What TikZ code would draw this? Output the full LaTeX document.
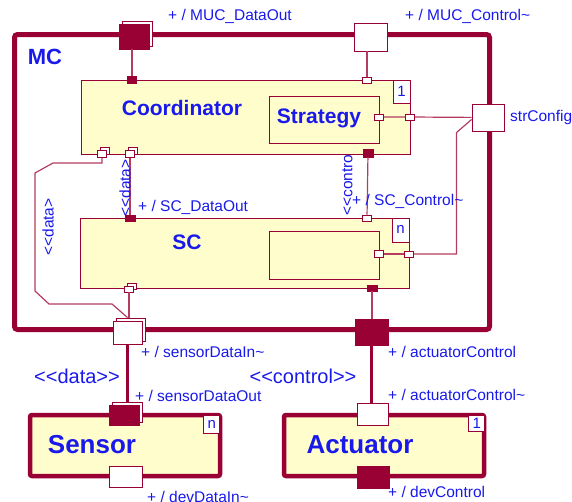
\documentclass[tikz,border=0pt]{standalone}
\usepackage{fontspec}
\setmainfont{Liberation Sans}
\usetikzlibrary{shadows}

\definecolor{crimson}{RGB}{153,0,51}
\definecolor{wirecol}{RGB}{180,60,95}
\definecolor{partfill}{RGB}{255,253,204}
\definecolor{umlblue}{RGB}{25,25,235}

\newcommand\lguil{<\kern0pt<}
\newcommand\rguil{>\kern0pt>}

\tikzset{
frame/.style={draw=crimson,line width=5pt,rounded corners=3pt,inner sep=0pt},
part/.style={draw=crimson,fill=partfill,line width=0.9pt,inner sep=0pt},
device/.style={draw=crimson,fill=partfill,line width=4.5pt,rounded corners=2pt,inner sep=0pt},
mult/.style={draw=crimson,fill=white,line width=0.8pt,inner sep=0pt,
  text=umlblue,font=\fontsize{15}{15}\selectfont},
portw/.style={draw=crimson,fill=white,line width=0.9pt,inner sep=0pt},
portf/.style={draw=crimson,fill=crimson,line width=0.9pt,inner sep=0pt},
sport/.style={minimum width=9pt,minimum height=6pt},
stacked/.style={general shadow={draw=crimson,fill=white,line width=0.9pt,
  shadow xshift=3pt,shadow yshift=3pt}},
wire/.style={draw=wirecol,line width=1.2pt},
link/.style={draw=crimson,line width=3pt},
lbl/.style={text=umlblue,font=\fontsize{15.5}{18}\selectfont,inner sep=0pt},
stereo/.style={text=umlblue,font=\fontsize{20}{22}\selectfont,inner sep=0pt},
title/.style={text=umlblue,font=\bfseries\fontsize{21}{22}\selectfont,inner sep=0pt},
devtitle/.style={text=umlblue,font=\bfseries\fontsize{26}{28}\selectfont,inner sep=0pt}
}

\begin{document}
\begin{tikzpicture}[x=1pt,y=-1pt]
\useasboundingbox (0,0) rectangle (572,501);

% MC
\node[frame,minimum width=475pt,minimum height=295pt] (MC) at (252,182) {};
\node[title,font=\bfseries\fontsize{22}{22}\selectfont] (MCname) at (45,57) {MC};

% Coordinator
\node[part,minimum width=329pt,minimum height=74pt] (coord) at (245.5,117) {};
\node[title] (coordname) at (182,108) {Coordinator};
\node[mult,anchor=north east,minimum width=17pt,minimum height=23pt]
(coordmult) at (coord.north east) {1};
\node[part,minimum width=110pt,minimum height=47pt] (strat) at (324,119.5) {};
\node[title] (stratname) at (319,118) {Strategy};

% SC
\node[part,minimum width=329pt,minimum height=70pt] (SC) at (244.5,253) {};
\node[title] (SCname) at (187,242) {SC};
\node[mult,anchor=north east,minimum width=17pt,minimum height=24pt]
(SCmult) at (SC.north east) {n};
\node[part,minimum width=110pt,minimum height=48pt] (SCin) at (324,255) {};

% Ports of the parts
\node[portf,sport,minimum height=7pt] (cTopData) at (132,80) {};
\node[portw,sport] (cTopCtrl) at (367,80) {};
\node[portw,sport,minimum height=7pt,stacked] (cBotLeft) at (102,154) {};
\node[portw,sport,minimum height=7pt,stacked] (cBotData) at (130,154) {};
\node[portf,sport,minimum width=10pt,minimum height=8pt] (cBotCtrl) at (368,153) {};
\node[portw,sport] (stratPort) at (379,117) {};
\node[portw,sport] (cRight) at (410,117) {};
\node[portf,sport,minimum width=10pt] (scTopData) at (130,218) {};
\node[portw,sport] (scTopCtrl) at (367,218) {};
\node[portw,sport,stacked] (scBotData) at (129,289) {};
\node[portf,sport,minimum width=10pt] (scBotCtrl) at (372,288) {};
\node[portw,sport,minimum height=7pt] (scInPort) at (379,254) {};
\node[portw,sport] (scRight) at (409,254) {};

% Ports of MC
\node[portf,stacked,minimum width=30pt,minimum height=25pt] (mucData) at (134,36.5) {};
\node[portw,minimum width=33pt,minimum height=28pt] (mucCtrl) at (370.5,37) {};
\node[portw,minimum width=32pt,minimum height=27pt] (strCfg) at (488,117.5) {};
\node[portw,stacked,minimum width=29pt,minimum height=23pt] (sensIn) at (127.5,332.5) {};
\node[portf,minimum width=33pt,minimum height=26pt] (actCtrl) at (371.5,332) {};

% Sensor
\node[device,minimum width=190pt,minimum height=61pt] (sensor) at (125,445.5) {};
\node[devtitle] (sensname) at (92,445) {Sensor};
\node[mult,anchor=north east,minimum width=16pt,minimum height=18pt]
(sensmult) at ([shift={(-2,2)}]sensor.north east) {n};
\node[portf,stacked,minimum width=30pt,minimum height=20pt] (sensOut) at (124,415) {};
\node[portw,minimum width=33pt,minimum height=21pt] (devIn) at (125.5,476.5) {};

% Actuator
\node[device,minimum width=200pt,minimum height=61pt] (actuator) at (384,445.5) {};
\node[devtitle] (actname) at (360,445) {Actuator};
\node[mult,anchor=north east,minimum width=16pt,minimum height=16pt]
(actmult) at ([shift={(-1,2)}]actuator.north east) {1};
\node[portw,minimum width=31pt,minimum height=22pt] (actIn) at (372.5,414) {};
\node[portf,minimum width=32pt,minimum height=22pt] (devCtrl) at (373,477) {};

% Connectors
\draw[wire] (cTopData) -- (cTopData |- mucData.south);
\draw[wire] (cTopCtrl) -- (cTopCtrl |- mucCtrl.south);
\draw[wire] (stratPort) -- (cRight) -- (strCfg);
\draw[wire] (strCfg.west) ++(0,2) -- ++(-15,13) |- (scRight);
\draw[wire] (scInPort) -- (scRight);
\draw[wire] (cBotData) -- (scTopData);
\draw[wire] (cBotCtrl) -- (scTopCtrl);
\draw[wire] (scBotCtrl) -- (scBotCtrl |- actCtrl.north);
\draw[wire] (scBotData) -- ([yshift=3pt]scBotData |- sensIn.north);
\draw[wire] (cBotLeft) |- (53,163) -- (35,173) -- (35,291) -- (49,304)
  -- (112,304) -- ([yshift=3pt]sensIn.north);
\draw[link] (sensIn) -- ([yshift=3pt]sensIn.south |- sensOut.north);
\draw[link] (actCtrl) -- (actCtrl.south |- actIn.north);

% Labels
\node[lbl,anchor=west] (lMucData) at (168,16) {+ / MUC\_DataOut};
\node[lbl,anchor=west] (lMucCtrl) at (405,16) {+ / MUC\_Control\textasciitilde};
\node[lbl,anchor=west] (lStrCfg) at (510,117) {strConfig};
\node[lbl,anchor=west] (lScData) at (138,207) {+ / SC\_DataOut};
\node[lbl,anchor=west] (lScCtrl) at (352,201) {+ / SC\_Control\textasciitilde};
\node[lbl,anchor=west] (lSensIn) at (141,352) {+ / sensorDataIn\textasciitilde};
\node[lbl,anchor=west] (lSensOut) at (135,396) {+ / sensorDataOut};
\node[lbl,anchor=west] (lDevIn) at (147,497) {+ / devDataIn\textasciitilde};
\node[lbl,anchor=west] (lActCtrl) at (388,352) {+ / actuatorControl};
\node[lbl,anchor=west] (lActIn) at (388,395) {+ / actuatorControl\textasciitilde};
\node[lbl,anchor=west] (lDevCtrl) at (388,492) {+ / devControl};
\node[lbl,rotate=90] (lDataLeft) at (48,227) {\lguil data>};
\node[lbl,rotate=90] (lDataMid) at (125,188) {\lguil data>};
\node[lbl,rotate=90] (lCtrlMid) at (347.5,185) {\lguil contro};
\node[stereo] (sData) at (77,376) {\lguil data\rguil};
\node[stereo] (sCtrl) at (303,376) {\lguil control\rguil};

\end{tikzpicture}
\end{document}
